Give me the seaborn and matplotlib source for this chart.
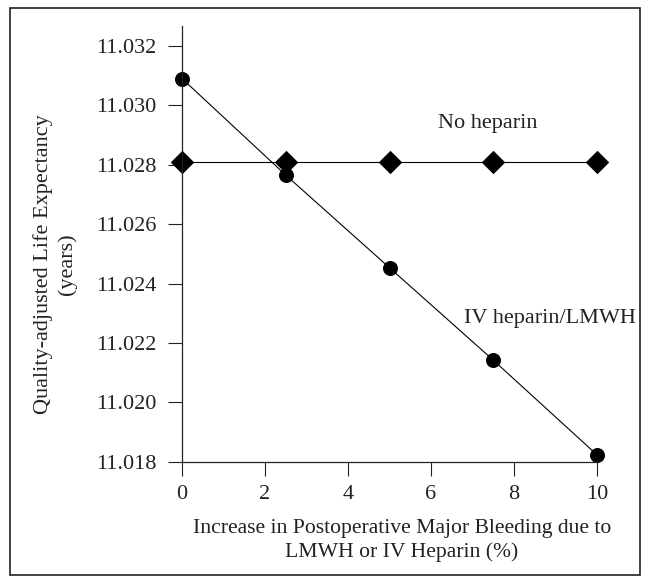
import matplotlib
matplotlib.use("Agg")
import matplotlib.pyplot as plt
import seaborn as sns
import pandas as pd
from matplotlib.patches import Rectangle

# data
bleeding_pct = [0, 2.5, 5, 7.5, 10]
no_heparin = [11.0281, 11.0281, 11.0281, 11.0281, 11.0281]
iv_heparin = [11.0309, 11.02765, 11.02453, 11.02142, 11.01823]
y_ticks = [11.018, 11.020, 11.022, 11.024, 11.026, 11.028, 11.030, 11.032]
x_ticks = [0, 2, 4, 6, 8, 10]

df = pd.DataFrame({"x": bleeding_pct, "none": no_heparin, "iv": iv_heparin})

sns.set_style("ticks")
plt.rcParams["font.family"] = ["Liberation Serif", "DejaVu Serif"]

fig = plt.figure(figsize=(6.5, 5.84), dpi=100)
ax = fig.add_axes([0.28, 0.2094, 0.6385, 0.7461])

sns.lineplot(data=df, x="x", y="iv", ax=ax, color="black", lw=0.8,
             marker="o", markersize=10, markeredgecolor="black", clip_on=False)
sns.lineplot(data=df, x="x", y="none", ax=ax, color="black", lw=0.8,
             marker="D", markersize=11, markeredgecolor="black", clip_on=False)

ax.set_xlim(0, 10)
ax.set_ylim(11.018, 11.03267)
ax.set_xticks(x_ticks)
ax.set_yticks(y_ticks)
ax.set_yticklabels([f"{v:.3f}" for v in y_ticks])
ax.tick_params(direction="out", length=10, width=0.8, labelsize=16, colors="#222222")
ax.tick_params(axis="y", pad=8.5)
ax.tick_params(axis="x", pad=6.5)
for s in ["top", "right"]:
    ax.spines[s].set_visible(False)
for s in ["left", "bottom"]:
    ax.spines[s].set_linewidth(0.9)
    ax.spines[s].set_color("#222222")

ax.set_xlabel("Increase in Postoperative Major Bleeding due to\nLMWH or IV Heparin (%)",
              fontsize=15.6, color="#222222", linespacing=1.3)
ax.xaxis.set_label_coords(0.53, -0.131)
ax.set_ylabel("Quality-adjusted Life Expectancy\n(years)", fontsize=16,
              color="#222222", linespacing=1.3)
ax.yaxis.set_label_coords(-0.253, 0.454)

ax.text(7.37, 11.0294, "No heparin", fontsize=16, ha="center", va="center", color="#222222")
ax.text(8.87, 11.02283, "IV heparin/LMWH", fontsize=16, ha="center", va="center", color="#222222")

fig.patches.append(Rectangle((10 / 650, 9 / 584), 630 / 650, 567 / 584, transform=fig.transFigure,
                             fill=False, edgecolor="#222222", lw=1.2))

fig.savefig("out.png", dpi=100)
